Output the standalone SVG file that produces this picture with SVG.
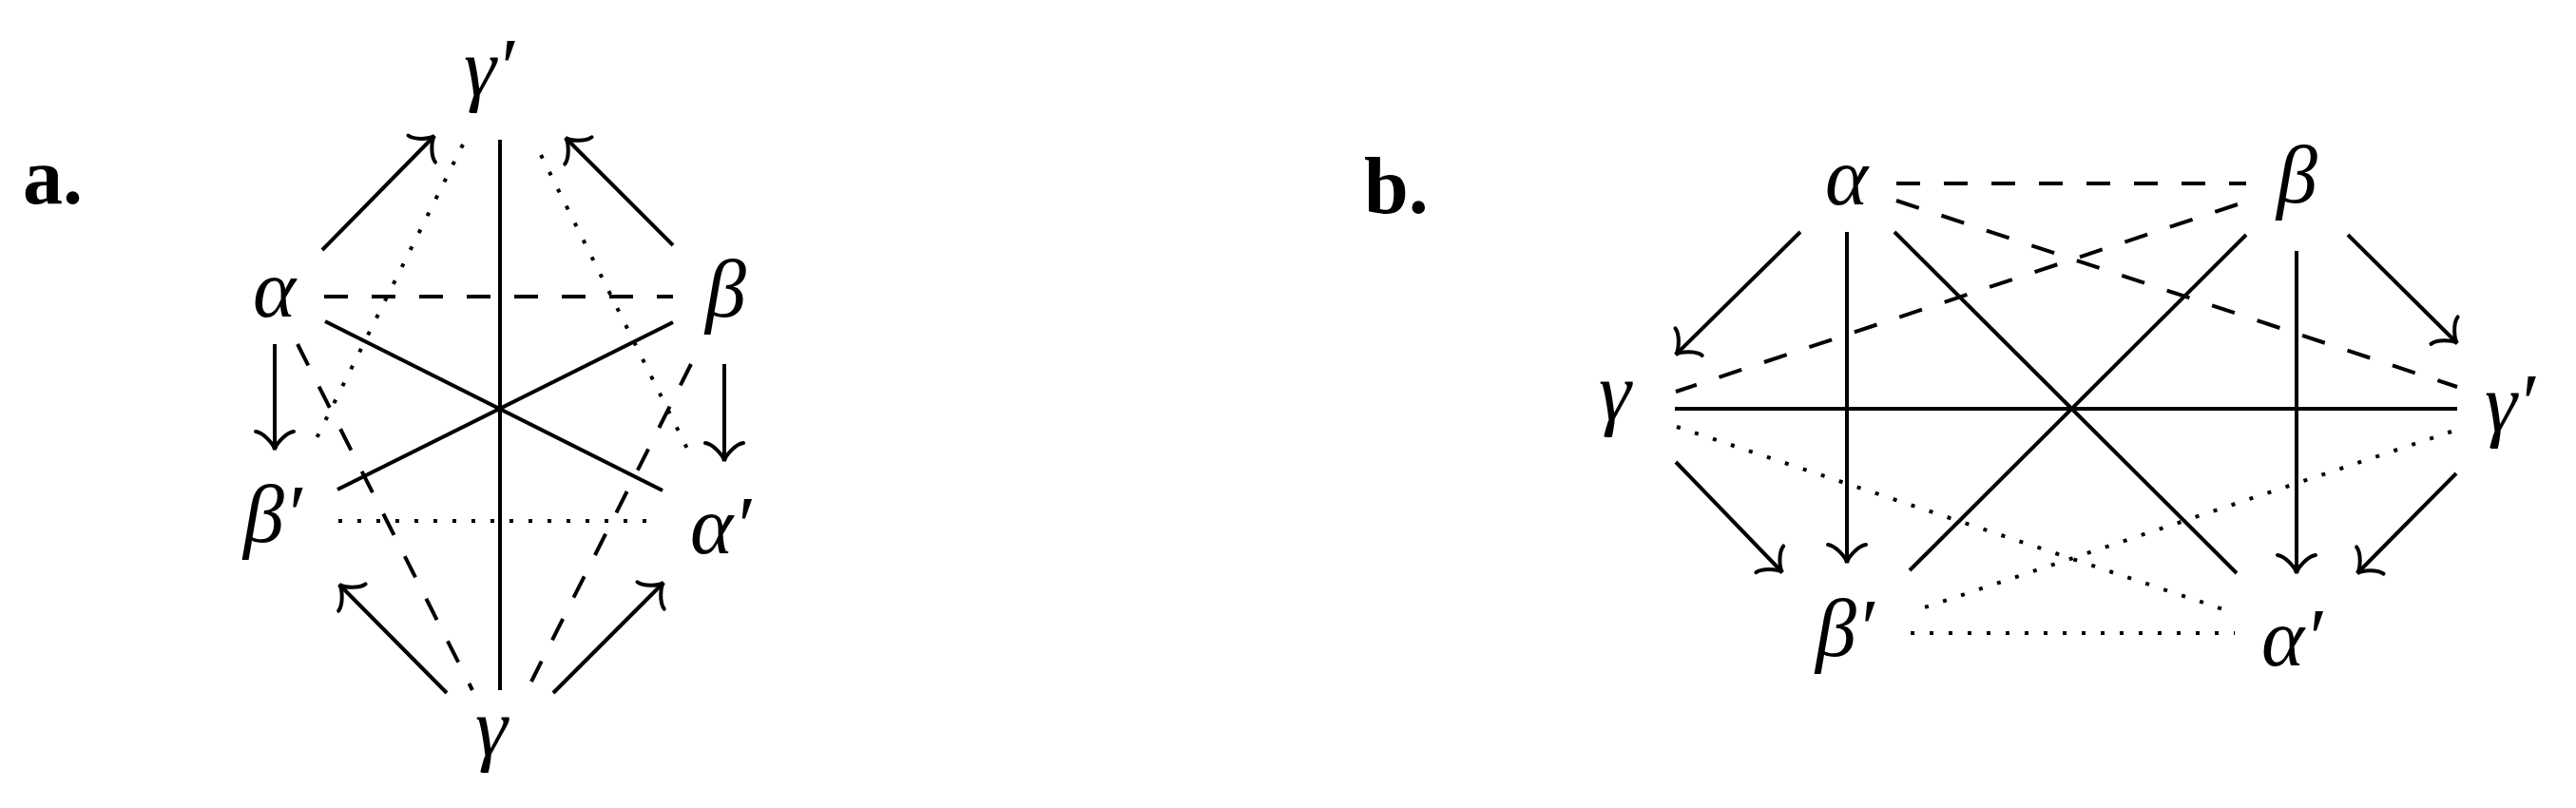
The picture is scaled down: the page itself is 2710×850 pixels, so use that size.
<svg xmlns="http://www.w3.org/2000/svg" width="2710" height="850" viewBox="0 0 2710 850">
<style>
.s{stroke:#000;stroke-width:4;fill:none}
.d{stroke-dasharray:25 25}
.o{stroke-dasharray:4 16}
.a{marker-end:url(#to)}
.m{font-family:"Liberation Serif",serif;font-style:italic;font-size:86px;fill:#000}
.lab{font-family:"Liberation Serif",serif;font-weight:bold;font-size:84px;fill:#000}
</style>
<defs>
<marker id="to" markerUnits="userSpaceOnUse" orient="auto" refX="0" refY="0" markerWidth="60" markerHeight="60" viewBox="-30 -30 60 60" overflow="visible">
<path d="M-19,-20 C-18,-12 -6,-1.2 0,0 C-6,1.2 -18,12 -19,20" fill="none" stroke="#000" stroke-width="4" stroke-linecap="round"/>
</marker>
</defs>
<rect width="2710" height="850" fill="#fff"/>
<text class="lab" x="24" y="214">a.</text>
<text class="lab" x="1435" y="224">b.</text>
<g id="panel-a-connectors">
<line class="s" x1="526" y1="147" x2="526" y2="726"/>
<line class="s a" x1="339" y1="263" x2="457" y2="143"/>
<line class="s a" x1="708" y1="258" x2="595" y2="145"/>
<line class="s d" x1="341" y1="312" x2="708" y2="312"/>
<line class="s" x1="342" y1="338" x2="697" y2="516"/>
<line class="s" x1="708" y1="339" x2="355" y2="515"/>
<line class="s a" x1="289" y1="362" x2="289" y2="473"/>
<line class="s a" x1="762" y1="383" x2="762" y2="485"/>
<line class="s d" x1="313" y1="362" x2="497" y2="726"/>
<line class="s d" x1="727" y1="383" x2="559" y2="717"/>
<line class="s o" x1="487" y1="152" x2="327" y2="473"/>
<line class="s o" x1="569" y1="163" x2="729" y2="484"/>
<line class="s o" x1="356" y1="548" x2="696" y2="548"/>
<line class="s a" x1="470" y1="729" x2="357" y2="615"/>
<line class="s a" x1="582" y1="729" x2="698" y2="613"/>
</g>
<g id="a-gamma-prime"><text class="m" x="488" y="100">γ′</text></g>
<g id="a-alpha"><text class="m" x="266" y="333">α</text></g>
<g id="a-beta"><text class="m" x="742" y="333">β</text></g>
<g id="a-beta-prime"><text class="m" x="256" y="570">β′</text></g>
<g id="a-alpha-prime"><text class="m" x="726" y="582">α′</text></g>
<g id="a-gamma"><text class="m" x="500" y="794">γ</text></g>
<g id="panel-b-connectors">
<line class="s d" x1="1995" y1="193" x2="2363" y2="193"/>
<line class="s d" x1="1995" y1="211" x2="2585" y2="407"/>
<line class="s d" x1="2354" y1="215" x2="1763" y2="412"/>
<line class="s a" x1="1894" y1="244" x2="1763" y2="373"/>
<line class="s a" x1="2470" y1="247" x2="2585" y2="361"/>
<line class="s a" x1="1943" y1="244" x2="1943" y2="592"/>
<line class="s a" x1="2416" y1="264" x2="2416" y2="603"/>
<line class="s" x1="1993" y1="244" x2="2353" y2="603"/>
<line class="s" x1="2363" y1="247" x2="2009" y2="600"/>
<line class="s" x1="1762" y1="430" x2="2585" y2="430"/>
<line class="s o" x1="1764" y1="449" x2="2351" y2="645"/>
<line class="s o" x1="2579" y1="454" x2="2010" y2="644"/>
<line class="s a" x1="1763" y1="486" x2="1875" y2="602"/>
<line class="s a" x1="2584" y1="498" x2="2480" y2="603"/>
<line class="s o" x1="2010" y1="666" x2="2351" y2="666"/>
</g>
<g id="b-alpha"><text class="m" x="1920" y="215">α</text></g>
<g id="b-beta"><text class="m" x="2395" y="213">β</text></g>
<g id="b-gamma"><text class="m" x="1682" y="441">γ</text></g>
<g id="b-gamma-prime"><text class="m" x="2614" y="453">γ′</text></g>
<g id="b-beta-prime"><text class="m" x="1910" y="690">β′</text></g>
<g id="b-alpha-prime"><text class="m" x="2379" y="700">α′</text></g>
</svg>
